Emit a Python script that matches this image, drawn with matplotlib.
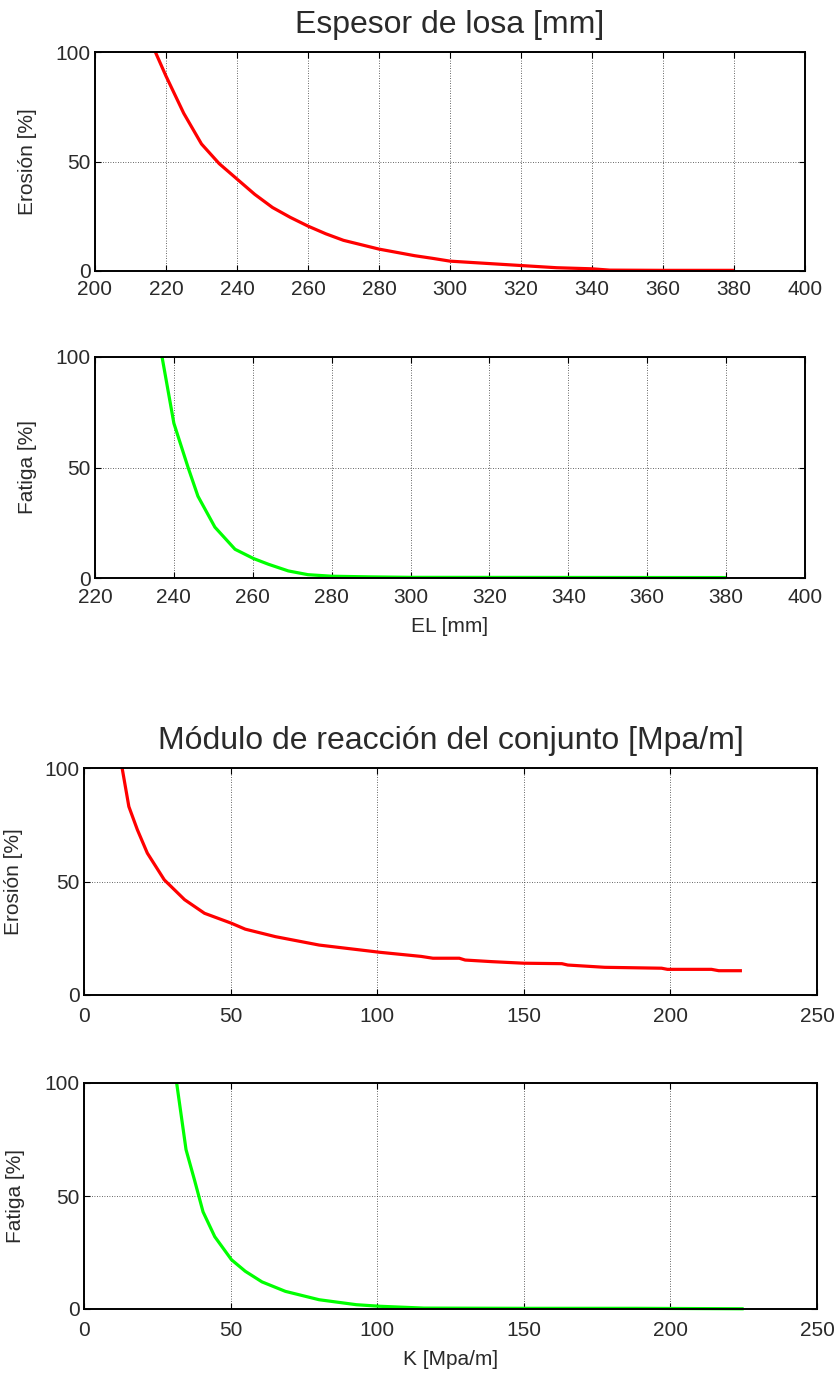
import matplotlib
matplotlib.use("Agg")
import matplotlib.pyplot as plt

# ---- data ----
el_erosion_x = [217, 220, 225, 230, 235, 240, 245, 250, 255, 260, 265, 270, 275, 280, 285, 290,
                295, 300, 305, 310, 320, 330, 340, 345, 360, 380]
el_erosion_y = [100, 89, 72, 58, 49, 42, 35, 29, 24.5, 20.5, 17, 14, 12, 10, 8.5, 7,
                5.8, 4.5, 4, 3.5, 2.5, 1.5, 1.0, 0.4, 0.3, 0.3]

el_fatiga_x = [237, 240, 243.6, 246.1, 250.4, 255.5, 260.2, 264, 269, 274, 280, 290, 300, 380]
el_fatiga_y = [100, 70, 50, 37, 23, 13, 8.8, 6.2, 3.2, 1.5, 0.8, 0.5, 0.3, 0.2]

k_erosion_x = [13, 15.3, 18.2, 21.6, 27.4, 34.3, 41.1, 50.3, 55, 65.3, 80.2, 101, 115, 119, 128,
               130, 139, 150, 163, 165, 177.6, 197, 199, 214, 216.5, 224.4]
k_erosion_y = [100, 83, 72.8, 62.5, 50.7, 42, 36, 31.6, 29, 25.7, 22, 18.8, 17, 16.2, 16.2,
               15.4, 14.7, 14.0, 13.8, 13.2, 12.2, 11.8, 11.3, 11.3, 10.7, 10.7]

k_fatiga_x = [31.6, 34.8, 37.7, 40.6, 44.6, 50.3, 55, 60.7, 68.7, 80.2, 92.9, 101, 115.9, 150, 188, 225]
k_fatiga_y = [100, 70.5, 57, 43, 32, 21.8, 16.7, 12, 7.8, 4.1, 1.9, 1.2, 0.4, 0.3, 0.3, 0.1]

yticks = [0, 50, 100]
el1_ticks = [200, 220, 240, 260, 280, 300, 320, 340, 360, 380, 400]
el2_ticks = [220, 240, 260, 280, 300, 320, 340, 360, 380, 400]
k_ticks = [0, 50, 100, 150, 200, 250]

title_el = "Espesor de losa [mm]"
title_k = "Módulo de reacción del conjunto [Mpa/m]"

# ---- figure ----
plt.rcParams['font.family'] = ['Liberation Sans', 'DejaVu Sans']
TXT = '#2a2a2a'
W, H = 838, 1375
fig = plt.figure(figsize=(W / 100, H / 100), dpi=100)


def make_ax(left, right, top, bottom):
    return fig.add_axes([left / W, 1 - bottom / H, (right - left) / W, (bottom - top) / H])


def style(ax, xlim, xticks, ylabel, ylab_x, xpad):
    ax.set_xlim(*xlim)
    ax.set_ylim(0, 100)
    ax.set_xticks(xticks)
    ax.set_yticks(yticks)
    ax.grid(True, color='#333333', linestyle=(0, (1, 2)), linewidth=0.6)
    ax.tick_params(direction='in', length=4, width=0.8, top=True, right=True,
                   labelsize=15, colors='black', labelcolor=TXT)
    ax.tick_params(axis='y', pad=3)
    ax.tick_params(axis='x', pad=xpad)
    for s in ax.spines.values():
        s.set_linewidth(1.4)
        s.set_color('black')
    ax.set_ylabel(ylabel, fontsize=15, color=TXT)
    ax.yaxis.set_label_coords(ylab_x, 0.5)


ax1 = make_ax(95, 805, 52, 271)
ax1.plot(el_erosion_x, el_erosion_y, color='#ff0000', linewidth=2.3, solid_capstyle='butt')
style(ax1, (200, 400), el1_ticks, "Erosión [%]", -0.082, 6.5)
ax1.set_title(title_el, fontsize=23, color=TXT, pad=14)

ax2 = make_ax(95, 805, 357, 578)
ax2.plot(el_fatiga_x, el_fatiga_y, color='#00ff00', linewidth=2.3, solid_capstyle='butt')
style(ax2, (220, 400), el2_ticks, "Fatiga [%]", -0.082, 7.5)
ax2.set_xlabel("EL [mm]", fontsize=15, color=TXT, labelpad=7)

ax3 = make_ax(84, 817, 768, 995)
ax3.plot(k_erosion_x, k_erosion_y, color='#ff0000', linewidth=2.3, solid_capstyle='butt')
style(ax3, (0, 250), k_ticks, "Erosión [%]", -0.083, 8.5)
ax3.set_title(title_k, fontsize=23, color=TXT, pad=14)

ax4 = make_ax(84, 817, 1083, 1309)
ax4.plot(k_fatiga_x, k_fatiga_y, color='#00ff00', linewidth=2.3, solid_capstyle='butt')
style(ax4, (0, 250), k_ticks, "Fatiga [%]", -0.081, 9)
ax4.set_xlabel("K [Mpa/m]", fontsize=15, color=TXT, labelpad=7)

for ax in (ax1, ax2, ax3, ax4):
    for ln in ax.lines:
        ln.set_clip_on(False)

fig.savefig("out.png", dpi=100, facecolor='white')
